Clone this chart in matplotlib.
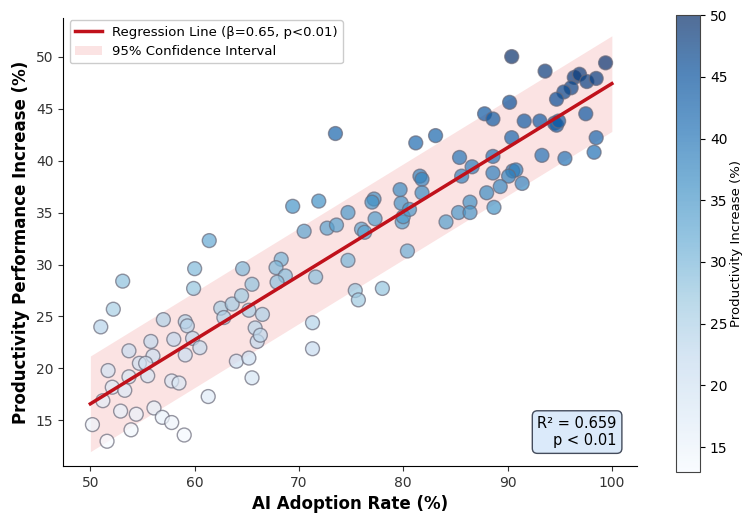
import numpy as np
import matplotlib
matplotlib.use('Agg')
import matplotlib.pyplot as plt

# точки: уровень внедрения ИИ и прирост производительности
ai_rate = [53.1, 52.2, 51.0, 59.9, 62.5, 63.6, 64.5, 65.5, 62.8, 65.2, 65.8, 66.0, 57.0, 59.1, 59.3,
           53.7, 55.8, 58.0, 59.8, 60.5, 59.1, 56.0, 54.7, 55.3, 51.7, 53.7, 55.5, 52.1, 53.3, 57.8,
           58.5, 51.2, 52.9, 54.4, 56.1, 50.2, 53.9, 51.6, 56.9, 57.8, 59.0, 61.3, 64.0, 65.2, 65.5,
           60.0, 61.4, 64.6,
           69.4, 71.9, 74.7, 77.2, 77.0, 79.8, 70.5, 72.7, 73.6, 76.0, 76.3, 77.3, 79.9, 80.0, 80.6,
           84.1, 80.4, 74.7, 68.3, 67.8, 68.7, 67.9, 71.6, 75.4, 75.7, 78.0, 66.5, 66.3, 71.3, 71.3,
           90.4, 93.6, 99.4, 96.4, 96.9, 97.6, 98.5, 96.1, 95.4, 94.7, 90.2, 87.8, 88.6, 91.6, 93.1,
           94.5, 94.7, 94.9, 97.5, 90.4, 98.5, 98.3, 93.3, 95.5, 83.1, 81.2, 85.4, 86.6, 88.6, 85.6,
           88.6, 90.5, 90.8, 90.1, 89.3, 91.4, 88.0, 86.4, 88.7, 85.3, 86.4, 81.6, 81.8, 81.8, 79.7,
           73.5]
productivity = [28.4, 25.7, 24.0, 27.7, 25.8, 26.2, 27.0, 28.1, 24.9, 25.6, 23.9, 22.6, 24.7, 24.5, 24.1,
                21.7, 22.6, 22.8, 22.9, 22.0, 21.3, 21.2, 20.5, 20.5, 19.8, 19.2, 19.3, 18.2, 17.9, 18.8,
                18.6, 16.9, 15.9, 15.6, 16.2, 14.6, 14.1, 13.0, 15.3, 14.8, 13.6, 17.3, 20.7, 21.0, 19.1,
                29.6, 32.3, 29.6,
                35.6, 36.1, 35.0, 36.3, 36.0, 35.9, 33.2, 33.5, 33.8, 33.4, 33.1, 34.4, 34.1, 34.6, 35.3,
                34.1, 31.3, 30.4, 30.5, 29.7, 28.9, 28.3, 28.8, 27.5, 26.6, 27.7, 25.2, 23.2, 24.4, 21.9,
                50.0, 48.6, 49.4, 48.0, 48.3, 47.6, 47.9, 47.0, 46.6, 45.9, 45.6, 44.5, 44.0, 43.8, 43.8,
                43.6, 43.4, 43.8, 44.5, 42.2, 42.2, 40.8, 40.5, 40.2, 42.4, 41.7, 40.3, 39.4, 40.4, 38.5,
                38.8, 39.0, 39.1, 38.5, 37.5, 37.8, 36.9, 36.0, 35.5, 35.0, 35.0, 38.5, 38.2, 36.9, 37.2,
                42.6]

# линия регрессии и доверительный интервал
line_x = [50, 100]
line_y = [16.6, 47.4]
ci_half = 4.6

fig = plt.figure(figsize=(7.44, 5.18), dpi=100)
ax = fig.add_axes([0.085, 0.10, 0.771, 0.865])
cax = fig.add_axes([0.909, 0.089, 0.032, 0.882])

ax.fill_between(line_x, np.array(line_y) - ci_half, np.array(line_y) + ci_half,
                color='lightcoral', alpha=0.22, linewidth=0, label='95% Confidence Interval', zorder=1)
sc = ax.scatter(ai_rate, productivity, c=productivity, cmap='Blues', s=100, alpha=0.7,
                edgecolors='#6a6a7a', linewidths=1, zorder=2)
ax.plot(line_x, line_y, color='#c0111b', linewidth=2.5,
        label='Regression Line (β=0.65, p<0.01)', zorder=3)

ax.set_xlim(47.4, 102.4)
ax.set_ylim(10.6, 53.7)
ax.set_xticks([50, 60, 70, 80, 90, 100])
ax.set_yticks([15, 20, 25, 30, 35, 40, 45, 50])
ax.tick_params(labelsize=10, colors='#333333')
ax.spines['top'].set_visible(False)
ax.spines['right'].set_visible(False)
ax.set_xlabel('AI Adoption Rate (%)', fontsize=12, fontweight='bold')
ax.set_ylabel('Productivity Performance Increase (%)', fontsize=12, fontweight='bold')

handles, labels = ax.get_legend_handles_labels()
ax.legend(handles[::-1], labels[::-1], loc='upper left', fontsize=9.5, framealpha=1,
          edgecolor='#cccccc', bbox_to_anchor=(0.0, 1.01))

ax.text(0.965, 0.04, 'R² = 0.659\np < 0.01', transform=ax.transAxes, ha='right', va='bottom',
        multialignment='right', fontsize=10.5,
        bbox=dict(boxstyle='round,pad=0.35', facecolor='#dbeafa', edgecolor='#444c5c'))

cb = fig.colorbar(sc, cax=cax)
cb.set_label('Productivity Increase (%)', fontsize=9.5, labelpad=2)
cb.ax.tick_params(labelsize=10)
cb.set_ticks([15, 20, 25, 30, 35, 40, 45, 50])
cb.outline.set_edgecolor('#444444')

fig.savefig('out.png', dpi=100)
